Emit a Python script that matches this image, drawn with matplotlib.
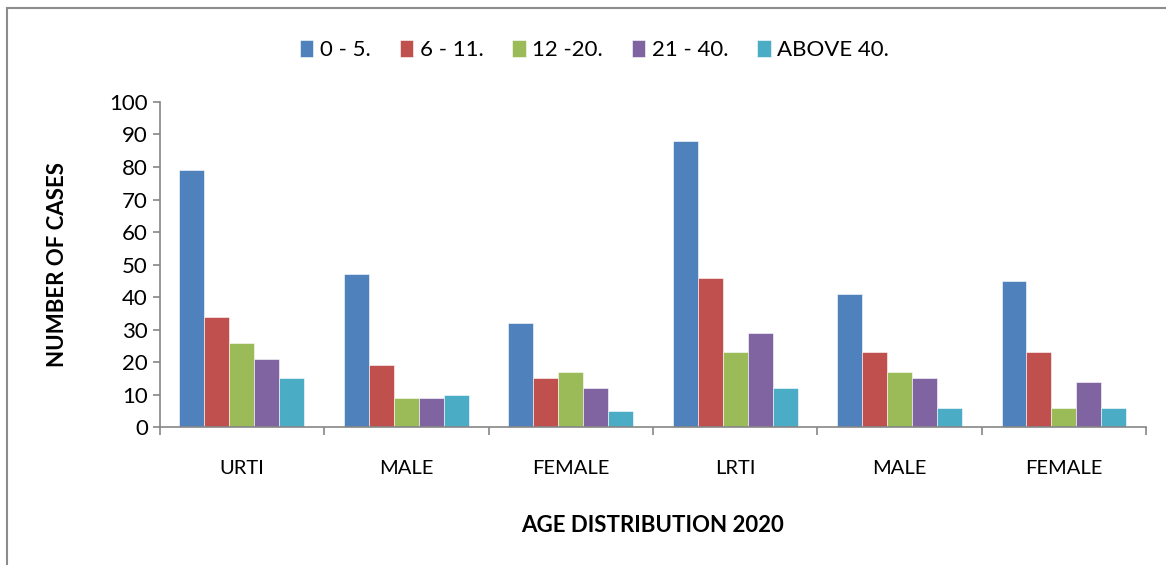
import numpy as np
import matplotlib.pyplot as plt
from matplotlib.patches import Rectangle

plt.rcParams['font.family'] = ['Lato', 'DejaVu Sans']

groups = ['URTI', 'MALE', 'FEMALE', 'LRTI', 'MALE', 'FEMALE']
series = ['0 - 5.', '6 - 11.', '12 -20.', '21 - 40.', 'ABOVE 40.']
age_0_5 = [79, 47, 32, 88, 41, 45]
age_6_11 = [34, 19, 15, 46, 23, 23]
age_12_20 = [26, 9, 17, 23, 17, 6]
age_21_40 = [21, 9, 12, 29, 15, 14]
age_40_up = [15, 10, 5, 12, 6, 6]
colors = ['#4f81bd', '#c0504d', '#9bbb59', '#8064a2', '#4bacc6']

values = [age_0_5, age_6_11, age_12_20, age_21_40, age_40_up]

fig = plt.figure(figsize=(11.66, 5.65), dpi=100)
ax = fig.add_axes([0.137, 0.244, 0.846, 0.5755])

# outer chart frame
fig.patches.append(Rectangle((7 / 1166, -0.1), 1.2, (565 - 8) / 565 + 0.1,
                             transform=fig.transFigure, fill=False,
                             edgecolor='#8c8c8c', linewidth=1.5))

x = np.arange(len(groups))
w = 0.152
for i, (vals, name) in enumerate(zip(values, series)):
    ax.bar(x + (i - 2) * w, vals, w, color=colors[i], label=name,
           edgecolor='white', linewidth=0.4)

ax.set_xlim(-0.5, len(groups) - 0.5)
ax.set_ylim(0, 100)
ax.set_yticks(range(0, 101, 10))
ax.set_xticks(x)
ax.set_xticklabels(groups)
ax.set_xticks(np.arange(-0.5, len(groups)), minor=True)
ax.tick_params(axis='x', which='major', length=0, pad=24, labelsize=14.5)
ax.tick_params(axis='x', which='minor', length=6, color='#868686', width=1.2)
ax.tick_params(axis='y', length=5, color='#868686', width=1.2, labelsize=16)

for side in ['top', 'right']:
    ax.spines[side].set_visible(False)
for side in ['left', 'bottom']:
    ax.spines[side].set_color('#868686')
    ax.spines[side].set_linewidth(1.2)

ax.set_ylabel('NUMBER OF CASES', fontsize=16, fontweight='bold', labelpad=30)
ax.set_xlabel('AGE DISTRIBUTION 2020', fontsize=16, fontweight='bold', labelpad=27)

fig.legend(loc='center', bbox_to_anchor=(0.51, 0.912), ncol=5, frameon=False,
           fontsize=16, handlelength=0.6, handleheight=0.8, handletextpad=0.3,
           columnspacing=1.3)

fig.savefig('out.png', dpi=100)
